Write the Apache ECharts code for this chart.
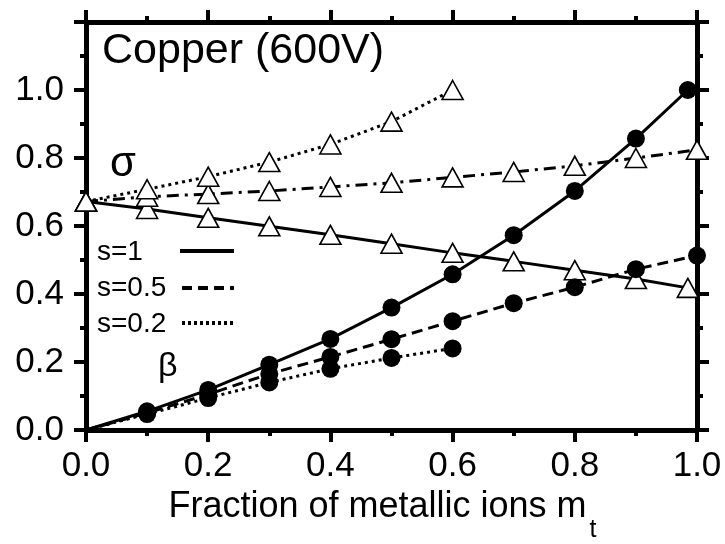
<!DOCTYPE html>
<html><head><meta charset="utf-8">
<script src="https://cdn.jsdelivr.net/npm/echarts@6/dist/echarts.min.js"></script>
<style>html,body{margin:0;padding:0;background:#fff}#c{width:725px;height:544px}</style>
</head><body><div id="c"></div>
<script>
// x values (fraction of metallic ions m_t)
const mtS1  = [0, 0.1, 0.2, 0.3, 0.4, 0.5, 0.6, 0.7, 0.8, 0.9, 0.985];
const mtS05 = [0, 0.1, 0.2, 0.3, 0.4, 0.5, 0.6, 0.7, 0.8, 0.9, 1.0];
const mtS02 = [0, 0.1, 0.2, 0.3, 0.4, 0.5, 0.6];
// sigma (open triangles)
const sigmaS1  = [0.672, 0.650, 0.624, 0.599, 0.574, 0.548, 0.521, 0.496, 0.470, 0.444, 0.418];
const sigmaS05 = [0.672, 0.686, 0.694, 0.703, 0.715, 0.727, 0.743, 0.759, 0.777, 0.800, 0.824];
const sigmaS02 = [0.672, 0.708, 0.745, 0.788, 0.840, 0.907, 1.000];
// beta (filled circles)
const betaS1  = [0, 0.055, 0.118, 0.192, 0.268, 0.360, 0.458, 0.573, 0.703, 0.857, 1.000];
const betaS05 = [0, 0.050, 0.105, 0.165, 0.215, 0.267, 0.320, 0.373, 0.420, 0.473, 0.513];
const betaS02 = [0, 0.047, 0.094, 0.140, 0.180, 0.212, 0.240];
// tick labels
const xTicks = ['0.0', '0.2', '0.4', '0.6', '0.8', '1.0'];
const yTicks = ['0.0', '0.2', '0.4', '0.6', '0.8', '1.0'];
const legendLabels = ['s=1', 's=0.5', 's=0.2'];

const FONT = 'Liberation Sans, Arial, sans-serif';
const pairs = (xs, ys) => xs.map((x, i) => [x, ys[i]]);
const fmtX = v => { const s = v.toFixed(1); return xTicks.includes(s) ? s : ''; };
const fmtY = v => { const s = v.toFixed(1); return yTicks.includes(s) ? s : ''; };

function axisBase(extra) {
  return Object.assign({
    type: 'value',
    axisLine: { show: true, onZero: false, lineStyle: { color: '#000', width: 5 } },
    axisTick: { show: true, inside: false, length: 12, lineStyle: { color: '#000', width: 4 } },
    minorTick: { show: true, splitNumber: 2, length: 6, lineStyle: { color: '#000', width: 4 } },
    splitLine: { show: false },
    minorSplitLine: { show: false }
  }, extra);
}

function sigmaSeries(name, xs, ys, dash) {
  return {
    name, type: 'line', data: pairs(xs, ys), clip: false,
    symbol: 'triangle', symbolSize: [21, 19],
    itemStyle: { color: '#fff', borderColor: '#000', borderWidth: 1.6 },
    lineStyle: { color: '#000', width: 3, type: dash },
    z: 3
  };
}
function betaSeries(name, xs, ys, dash) {
  const data = pairs(xs, ys).map((p, i) => i === 0 ? { value: p, symbol: 'none' } : p);
  return {
    name, type: 'line', data, clip: false,
    symbol: 'circle', symbolSize: 18,
    itemStyle: { color: '#000', borderColor: '#000', borderWidth: 0 },
    lineStyle: { color: '#000', width: 3, type: dash },
    z: 4
  };
}

const chart = echarts.init(document.getElementById('c'), null, { renderer: 'canvas' });
chart.setOption({
  animation: false,
  backgroundColor: '#fff',
  textStyle: { fontFamily: FONT },
  grid: { left: 86, right: 28, top: 22, bottom: 114, containLabel: false, outerBoundsMode: 'none' },
  xAxis: [
    axisBase({
      position: 'bottom', min: 0, max: 1, interval: 0.2,
      axisLabel: { show: true, color: '#000', fontSize: 35, fontFamily: FONT, margin: 19, formatter: fmtX, showMaxLabel: true, showMinLabel: true },
      name: '{n|Fraction of metallic ions m}{s|t}',
      nameLocation: 'middle', nameGap: 56,
      nameTextStyle: {
        color: '#000', fontFamily: FONT, padding: [0, 18, 0, 0],
        rich: {
          n: { fontSize: 36, fontFamily: FONT, color: '#000', lineHeight: 42, verticalAlign: 'top' },
          s: { fontSize: 25, fontFamily: FONT, color: '#000', verticalAlign: 'top', padding: [29, 0, 0, 3] }
        }
      }
    }),
    axisBase({
      position: 'top', min: 0, max: 1, interval: 0.2,
      axisLabel: { show: false }
    })
  ],
  yAxis: [
    axisBase({
      position: 'left', min: 0, max: 1.2, interval: 0.2,
      axisLabel: { show: true, color: '#000', fontSize: 35, fontFamily: FONT, margin: 22, formatter: fmtY }
    }),
    axisBase({
      position: 'right', min: 0, max: 1.2, interval: 0.2,
      axisLabel: { show: false }
    })
  ],
  series: [
    sigmaSeries('σ s=1', mtS1, sigmaS1, 'solid'),
    sigmaSeries('σ s=0.5', mtS05, sigmaS05, [12, 6, 3, 6]),
    sigmaSeries('σ s=0.2', mtS02, sigmaS02, [3, 4]),
    betaSeries('β s=0.2', mtS02, betaS02, [3, 4]),
    betaSeries('β s=0.5', mtS05, betaS05, [11, 6]),
    betaSeries('β s=1', mtS1, betaS1, 'solid')
  ],
  graphic: [
    { type: 'text', left: 102, top: 30, z: 10, style: { text: 'Copper (600V)', font: '43px ' + FONT, fill: '#000' } },
    { type: 'text', left: 110, top: 143, z: 10, style: { text: 'σ', font: '42px ' + FONT, fill: '#000' } },
    { type: 'text', left: 158, top: 350, z: 10, style: { text: 'β', font: '34px ' + FONT, fill: '#000' } },
    { type: 'text', left: 97, top: 238, z: 10, style: { text: legendLabels[0], font: '28px ' + FONT, fill: '#000' } },
    { type: 'text', left: 97, top: 274, z: 10, style: { text: legendLabels[1], font: '28px ' + FONT, fill: '#000' } },
    { type: 'text', left: 97, top: 310, z: 10, style: { text: legendLabels[2], font: '28px ' + FONT, fill: '#000' } },
    { type: 'line', z: 10, shape: { x1: 180, y1: 251, x2: 234, y2: 251 }, style: { stroke: '#000', lineWidth: 4 } },
    { type: 'line', z: 10, shape: { x1: 182, y1: 288, x2: 234, y2: 288 }, style: { stroke: '#000', lineWidth: 4, lineDash: [10, 6] } },
    { type: 'line', z: 10, shape: { x1: 182, y1: 323, x2: 234, y2: 323 }, style: { stroke: '#000', lineWidth: 4, lineDash: [3, 3] } }
  ]
});
</script>
</body></html>
